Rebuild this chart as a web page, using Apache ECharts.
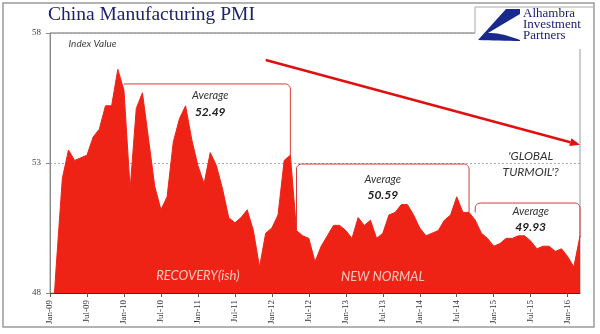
<!DOCTYPE html>
<html><head><meta charset="utf-8">
<script src="https://cdn.jsdelivr.net/npm/echarts@6/dist/echarts.min.js"></script>
<style>html,body{margin:0;padding:0;background:#fff}#c{width:600px;height:334px}</style>
</head><body><div id="c"></div>
<script>
const months = ['Jan','Feb','Mar','Apr','May','Jun','Jul','Aug','Sep','Oct','Nov','Dec'];
const categories = [];
for (let y = 9; y <= 16; y++) for (let m = 0; m < 12; m++) {
  if (y === 16 && m > 2) break;
  categories.push(months[m] + '-' + String(y).padStart(2, '0'));
}
const pmi = [
  45.3,49.0,52.4,53.5,53.1,53.2,53.3,54.0,54.3,55.2,55.2,56.6,
  55.8,52.0,55.1,55.7,53.9,52.1,51.2,51.7,53.8,54.7,55.2,53.9,
  52.9,52.2,53.4,52.9,52.0,50.9,50.7,50.9,51.2,50.4,49.0,50.3,
  50.5,51.0,53.1,53.3,50.4,50.2,50.1,49.2,49.8,50.2,50.6,50.6,
  50.4,50.1,50.9,50.6,50.8,50.1,50.3,51.0,51.1,51.4,51.4,51.0,
  50.5,50.2,50.3,50.4,50.8,51.0,51.7,51.1,51.1,50.8,50.3,50.1,
  49.8,49.9,50.1,50.1,50.2,50.2,50.0,49.7,49.8,49.8,49.6,49.7,
  49.4,49.0,50.2
];
const yTicks = [48, 53, 58];
const periods = [
  {label: 'Average', value: '52.49'},
  {label: 'Average', value: '50.59'},
  {label: 'Average', value: '49.93'}
];

const RED = '#ee2316';
const chart = echarts.init(document.getElementById('c'));
chart.setOption({
  animation: false,
  grid: {left: 50, right: 20, top: 33, bottom: 41, show: true, borderColor: '#9a9a9a', borderWidth: 1},
  xAxis: {
    type: 'category', data: categories, boundaryGap: false,
    axisLine: {lineStyle: {color: '#333', width: 1}},
    axisTick: {show: true, alignWithLabel: true, length: 4, lineStyle: {color: '#555'}, interval: (i) => i % 6 === 0},
    axisLabel: {interval: (i) => i % 6 === 0, rotate: 90, fontFamily: 'Liberation Serif', fontSize: 9, color: '#333', margin: 7},
    splitLine: {show: false}
  },
  yAxis: {
    type: 'value', min: yTicks[0], max: yTicks[2], interval: yTicks[1] - yTicks[0],
    axisLine: {show: true, lineStyle: {color: '#888'}},
    axisTick: {show: true, length: 4, lineStyle: {color: '#888'}},
    axisLabel: {fontFamily: 'Liberation Serif', fontSize: 9, color: '#444', margin: 9},
    splitLine: {show: true, lineStyle: {color: '#aaa', type: [2, 2], width: 1}}
  },
  series: [{
    type: 'line', data: pmi, symbol: 'none', clip: true,
    lineStyle: {color: RED, width: 1},
    areaStyle: {color: RED, opacity: 1, origin: 'start'},
    z: 3
  }]
});

function P(i, v) { return chart.convertToPixel({xAxisIndex: 0, yAxisIndex: 0}, [i, v]); }
function arcPts(cx, cy, r, a0, a1) {
  const pts = [];
  for (let k = 0; k <= 6; k++) { const a = a0 + (a1 - a0) * k / 6; pts.push([cx + r * Math.cos(a), cy + r * Math.sin(a)]); }
  return pts;
}
function bracket(i0, vTop, i1, vLeftBottom, vRightBottom, leftDown) {
  const a = P(i0, vTop), b = P(i1, vTop);
  const lb = P(i0, vLeftBottom), rb = P(i1, vRightBottom);
  const r = 5;
  let pts = [];
  if (leftDown) {
    pts.push(lb);
    pts = pts.concat(arcPts(a[0] + r, a[1] + r, r, Math.PI, 1.5 * Math.PI));
  } else pts.push(a);
  pts = pts.concat(arcPts(b[0] - r, b[1] + r, r, -0.5 * Math.PI, 0));
  pts.push(rb);
  return {type: 'polyline', shape: {points: pts}, style: {fill: null, stroke: '#d83a3a', lineWidth: 1}, z: 10};
}
function txt(i, v, s, opt) {
  const p = P(i, v);
  return {type: 'text', x: p[0], y: p[1], z: 20, style: Object.assign({text: s, align: 'center', verticalAlign: 'middle', fontFamily: 'Lato', fontStyle: 'italic', fontSize: 11, fill: '#333'}, opt || {})};
}
const g = [];
g.push({type: 'rect', shape: {x: 3, y: 3, width: 591, height: 324}, style: {fill: null, stroke: '#9a9a9a', lineWidth: 1.5}, z: 1});
const t0 = P(0, yTicks[2]);
g.push({type: 'line', shape: {x1: t0[0], y1: t0[1], x2: 580, y2: t0[1]}, style: {stroke: '#9a9a9a', lineWidth: 1}, z: 5});
g.push({type: 'text', x: 48, y: 15, style: {text: 'China Manufacturing PMI', fontFamily: 'Liberation Serif', fontSize: 19.5, fill: '#1d2170', verticalAlign: 'middle'}, z: 20});
g.push(txt(2.6, 57.58, 'Index Value', {align: 'left', fontSize: 10, fill: '#444'}));
g.push(bracket(11.7, 56.04, 38.6, 56.04, 53.25, false));
g.push(bracket(39.7, 52.96, 68.2, 50.45, 51.1, true));
g.push(bracket(69.3, 51.46, 85.7, 51.1, 50.15, true));
g.push(txt(26.4, 55.6, periods[0].label));
g.push(txt(26.4, 54.95, periods[0].value, {fontWeight: 'bold', fontSize: 12, fill: '#222'}));
g.push(txt(53.9, 52.38, periods[1].label));
g.push(txt(53.9, 51.77, periods[1].value, {fontWeight: 'bold', fontSize: 12, fill: '#222'}));
g.push(txt(77.6, 51.15, periods[2].label));
g.push(txt(77.6, 50.54, periods[2].value, {fontWeight: 'bold', fontSize: 12, fill: '#222'}));
g.push(txt(77.7, 53.27, "'GLOBAL", {fontSize: 12}));
g.push(txt(77.7, 52.66, "TURMOIL'?", {fontSize: 12}));
g.push(txt(23.9, 48.65, 'RECOVERY(ish)', {fontSize: 13, fill: '#f8c9c0'}));
g.push(txt(53.9, 48.62, 'NEW NORMAL', {fontSize: 13, fill: '#f8c9c0'}));
const s = P(35.4, 56.96), e = P(86.3, 53.7);
const dx = e[0] - s[0], dy = e[1] - s[1], L = Math.hypot(dx, dy), ux = dx / L, uy = dy / L;
const hl = 10, hw = 4;
const bx = e[0] - ux * hl, by = e[1] - uy * hl;
g.push({type: 'line', shape: {x1: s[0], y1: s[1], x2: bx, y2: by}, style: {stroke: '#e01010', lineWidth: 2.5}, z: 15});
g.push({type: 'polygon', shape: {points: [[e[0], e[1]], [bx - uy * hw, by + ux * hw], [bx + uy * hw, by - ux * hw]]}, style: {fill: '#e01010'}, z: 15});
// logo
g.push({type: 'rect', shape: {x: 475, y: 7, width: 118, height: 42}, style: {fill: '#fff'}, z: 30});
g.push({type: 'polyline', shape: {points: [[475, 33], [475, 7], [593, 7]]}, style: {stroke: '#aaa', lineWidth: 1, fill: null}, z: 31});
const sw = [[520, 9], [506, 9], [478, 40]];
for (let k = 0; k <= 8; k++) { const t = k / 8; sw.push([478 + 42 * t, 40 + 1 * t]); }
for (let k = 0; k <= 10; k++) { const t = k / 10; const x = 520 - 32 * t; const y = 40 - 8 * Math.sin(t * Math.PI * 0.5) + 1 * t; sw.push([x, y]); }
sw.push([520, 14]);
g.push({type: 'polygon', shape: {points: sw}, style: {fill: '#1a2a8c'}, z: 31});
g.push({type: 'text', x: 523, y: 8, style: {text: 'Alhambra\nInvestment\nPartners', fontFamily: 'Liberation Serif', fontSize: 13, lineHeight: 11, fill: '#1d2170'}, z: 31});
chart.setOption({graphic: g});
</script></body></html>
